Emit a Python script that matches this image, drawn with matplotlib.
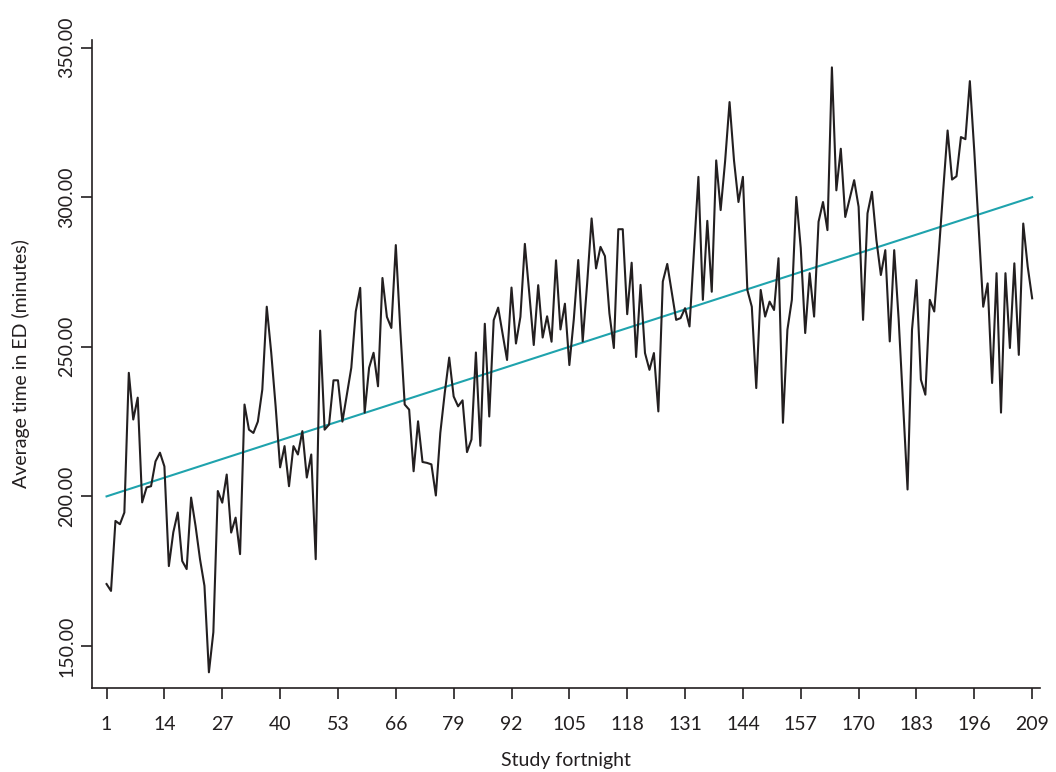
import numpy as np
import matplotlib
matplotlib.use("Agg")
import matplotlib.pyplot as plt

plt.rcParams['font.family'] = ['Lato', 'DejaVu Sans']

# fortnight numbers and average time in ED (minutes)
fortnight = np.arange(1, 210)
avg_time = [
    170.7, 168.4, 191.8, 190.7, 194.6, 241.3, 225.7, 233.0, 198.0, 203.0,
    203.4, 211.7, 214.6, 210.0, 176.7, 188.0, 194.6, 178.4, 175.7, 199.6,
    190.1, 179.0, 170.1, 141.2, 154.6, 201.8, 197.9, 207.3, 187.9, 192.9,
    180.7, 230.7, 222.3, 221.2, 225.0, 235.7, 263.4, 248.1, 230.0, 209.7,
    216.8, 203.4, 216.8, 214.0, 221.8, 206.3, 214.0, 179.0, 255.4, 222.3,
    224.0, 238.8, 238.8, 225.0, 234.0, 243.0, 261.8, 269.7, 228.0, 243.0,
    248.0, 236.8, 273.0, 260.0, 256.3, 284.0, 256.0, 230.7, 229.0, 208.4,
    225.1, 211.5, 211.2, 210.7, 200.3, 221.2, 234.6, 246.4, 233.4, 230.1,
    232.1, 214.8, 219.0, 248.1, 216.9, 257.7, 226.7, 258.9, 263.1, 254.4,
    245.6, 269.8, 251.1, 260.0, 284.4, 267.8, 250.6, 270.6, 253.1, 260.2,
    251.7, 278.9, 255.8, 264.4, 243.9, 259.2, 279.0, 251.8, 271.2, 292.9,
    276.2, 283.4, 280.3, 261.2, 249.6, 289.3, 289.3, 260.9, 278.1, 246.6,
    270.7, 247.9, 242.3, 247.9, 228.4, 271.8, 277.7, 268.4, 259.0, 259.6,
    262.9, 256.8, 281.8, 306.8, 265.7, 292.1, 268.4, 312.3, 295.7, 312.0,
    331.8, 312.3, 298.4, 306.8, 269.0, 263.4, 236.2, 269.0, 260.1, 265.1,
    262.3, 279.6, 224.6, 255.7, 265.7, 300.1, 283.0, 254.6, 274.6, 260.1,
    291.8, 298.4, 289.0, 343.4, 302.3, 316.2, 293.4, 299.6, 305.7, 296.8,
    259.0, 294.6, 301.8, 285.7, 274.0, 282.3, 251.8, 282.3, 259.2, 230.8,
    202.3, 255.7, 272.3, 239.0, 234.0, 265.7, 261.8, 281.2, 302.1, 322.3,
    305.9, 307.0, 320.1, 319.4, 338.8, 315.3, 289.2, 263.4, 271.2, 237.9,
    274.6, 228.0, 274.6, 249.6, 277.9, 247.3, 291.2, 276.8, 266.2,
]

# linear trend end points
trend_x = [1, 209]
trend_y = [200.0, 300.0]

xticks = list(range(1, 210, 13))
yticks = [150, 200, 250, 300, 350]

fig = plt.figure(figsize=(10.56, 7.72), dpi=100)
ax = fig.add_axes([0.087, 0.109, 0.898, 0.839])

ax.plot(fortnight, avg_time, color='#231f20', lw=1.5, zorder=3)
ax.plot(trend_x, trend_y, color='#1fa3ad', lw=1.5, zorder=2)

ax.set_xlim(-2.3, 210.8)
ax.set_ylim(136, 352.5)

ax.set_xticks(xticks)
ax.set_yticks(yticks)
ax.set_yticklabels([f"{v:.2f}" for v in yticks], rotation=90, va='center')

for s in ['top', 'right']:
    ax.spines[s].set_visible(False)
for s in ['left', 'bottom']:
    ax.spines[s].set_linewidth(1.2)
    ax.spines[s].set_color('#231f20')

ax.tick_params(axis='both', direction='out', length=8, width=1.2,
               colors='#231f20', labelsize=14)
ax.tick_params(axis='x', pad=12)
ax.tick_params(axis='y', pad=4)

ax.set_xlabel('Study fortnight', fontsize=14, color='#231f20', labelpad=14)
ax.set_ylabel('Average time in ED (minutes)', fontsize=14, color='#231f20', labelpad=20)

fig.savefig('out.png', dpi=100)
